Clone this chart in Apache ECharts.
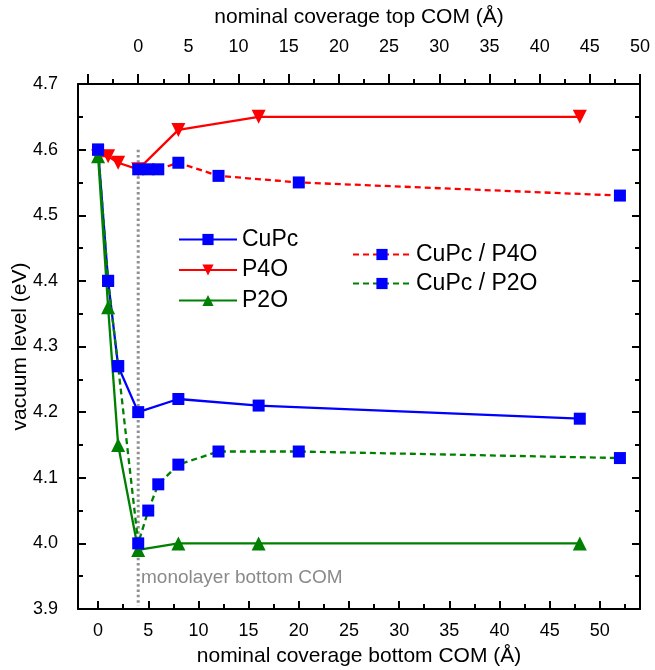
<!DOCTYPE html>
<html>
<head>
<meta charset="utf-8">
<script src="https://cdn.jsdelivr.net/npm/echarts@6/dist/echarts.min.js"></script>
<style>
  html, body { margin: 0; padding: 0; background: #fff; }
  #chart { width: 655px; height: 670px; }
</style>
</head>
<body>
<div id="chart"></div>
<script>
// bottom axis coverage (Å)
const bottomX = [0, 1, 2, 4, 8, 16, 48];
const cupc = [4.60, 4.40, 4.27, 4.20, 4.22, 4.21, 4.19];
const p4o = [4.59, 4.59, 4.58, 4.57, 4.63, 4.65, 4.65];
const p2o = [4.59, 4.36, 4.15, 3.99, 4.00, 4.00, 4.00];

// top axis coverage (Å), top = bottom - 4
const topXP4O = [0, 1, 2, 4, 8, 16, 48];
const cupcOnP4O = [4.57, 4.57, 4.57, 4.58, 4.56, 4.55, 4.53];
const topXP2O = [-4, -3, -2, 0, 1, 2, 4, 8, 16, 48];
const cupcOnP2O = [4.60, 4.40, 4.27, 4.00, 4.05, 4.09, 4.12, 4.14, 4.14, 4.13];

const monolayerX = [4, 4];
const monolayerY = [4.60, 3.905];

const bottomMajor = [0, 5, 10, 15, 20, 25, 30, 35, 40, 45, 50];
const bottomMinor = [2.5, 7.5, 12.5, 17.5, 22.5, 27.5, 32.5, 37.5, 42.5, 47.5, 52.5];
const topMajorTicks = [-5, 0, 5, 10, 15, 20, 25, 30, 35, 40, 45, 50];
const topLabels = [0, 5, 10, 15, 20, 25, 30, 35, 40, 45, 50];
const topMinor = [-2.5, 2.5, 7.5, 12.5, 17.5, 22.5, 27.5, 32.5, 37.5, 42.5, 47.5];

const BLUE = '#0000ff', RED = '#ff0000', GREEN = '#008000';
const FONT = 'Liberation Sans, Arial, sans-serif';

const pairs = (xs, ys) => xs.map((x, i) => [x, ys[i]]);

const axisLineStyle = { color: '#000', width: 2 };
const tickStyle = { color: '#000', width: 2 };

const option = {
  animation: false,
  grid: { left: 78, right: 15, top: 84, bottom: 61, containLabel: false, outerBoundsMode: 'none' },
  legend: [
    {
      orient: 'vertical', left: 173, top: 223,
      itemWidth: 58, itemHeight: 14, itemGap: 7.5,
      data: ['CuPc', 'P4O', 'P2O'],
      textStyle: { fontSize: 23, fontFamily: FONT, color: '#000' }
    },
    {
      orient: 'vertical', left: 347, top: 238,
      itemWidth: 58, itemHeight: 14, itemGap: 6,
      data: ['CuPc / P4O', 'CuPc / P2O'],
      textStyle: { fontSize: 23, fontFamily: FONT, color: '#000' }
    }
  ],
  xAxis: [
    {
      type: 'value', position: 'bottom', min: -2, max: 54,
      name: 'nominal coverage bottom COM (Å)', nameLocation: 'middle', nameGap: 37,
      nameTextStyle: { fontSize: 21, fontFamily: FONT, color: '#000' },
      axisLine: { onZero: false, lineStyle: axisLineStyle },
      axisTick: { inside: true, length: 8, lineStyle: tickStyle, customValues: bottomMajor },
      axisLabel: { fontSize: 18, fontFamily: FONT, color: '#000', margin: 13, customValues: bottomMajor },
      splitLine: { show: false }
    },
    {
      type: 'value', position: 'top', min: -6, max: 50,
      name: 'nominal coverage top COM (Å)', nameLocation: 'middle', nameGap: 56,
      nameTextStyle: { fontSize: 21, fontFamily: FONT, color: '#000' },
      axisLine: { onZero: false, lineStyle: axisLineStyle },
      axisTick: { inside: false, length: 10, lineStyle: tickStyle, customValues: topMajorTicks },
      axisLabel: { fontSize: 18, fontFamily: FONT, color: '#000', margin: 28, customValues: topLabels },
      splitLine: { show: false }
    },
    {
      type: 'value', position: 'bottom', min: -2, max: 54,
      axisLine: { show: false, onZero: false },
      axisTick: { inside: true, length: 5, lineStyle: tickStyle, customValues: bottomMinor },
      axisLabel: { show: false },
      splitLine: { show: false }
    },
    {
      type: 'value', position: 'top', min: -6, max: 50,
      axisLine: { show: false, onZero: false },
      axisTick: { inside: false, length: 5, lineStyle: tickStyle, customValues: topMinor },
      axisLabel: { show: false },
      splitLine: { show: false }
    }
  ],
  yAxis: [
    {
      type: 'value', position: 'left', min: 3.9, max: 4.7, interval: 0.1,
      name: 'vacuum level (eV)', nameLocation: 'middle', nameGap: 47, nameMoveOverlap: false,
      nameTextStyle: { fontSize: 21, fontFamily: FONT, color: '#000' },
      axisLine: { show: true, onZero: false, lineStyle: axisLineStyle },
      axisTick: { inside: true, length: 8, lineStyle: tickStyle },
      minorTick: { show: true, splitNumber: 2, length: 5, lineStyle: tickStyle },
      axisLabel: { fontSize: 18, fontFamily: FONT, color: '#000', margin: 20,
        formatter: v => v.toFixed(1) },
      splitLine: { show: false }
    },
    {
      type: 'value', position: 'right', min: 3.9, max: 4.7, interval: 0.1,
      axisLine: { show: true, onZero: false, lineStyle: axisLineStyle },
      axisTick: { inside: true, length: 8, lineStyle: tickStyle },
      minorTick: { show: true, splitNumber: 2, length: 5, lineStyle: tickStyle },
      axisLabel: { show: false },
      splitLine: { show: false }
    }
  ],
  graphic: [
    {
      type: 'text', left: 141, top: 568,
      style: { text: 'monolayer bottom COM', fontSize: 19, fontFamily: FONT, fill: '#8a8a8a' }
    }
  ],
  series: [
    {
      name: 'monolayer', type: 'line', xAxisIndex: 0, yAxisIndex: 0,
      data: pairs(monolayerX, monolayerY), symbol: 'none', silent: true,
      lineStyle: { color: '#909090', width: 3, type: [2.5, 2.8] }, z: 1
    },
    {
      name: 'CuPc', type: 'line', xAxisIndex: 0, yAxisIndex: 0,
      data: pairs(bottomX, cupc), symbol: 'rect', symbolSize: 12,
      lineStyle: { color: BLUE, width: 2.3 }, itemStyle: { color: BLUE }, z: 3
    },
    {
      name: 'P4O', type: 'line', xAxisIndex: 0, yAxisIndex: 0,
      data: pairs(bottomX, p4o), symbol: 'triangle', symbolRotate: 180, symbolSize: 14,
      lineStyle: { color: RED, width: 2.3 }, itemStyle: { color: RED }, z: 3
    },
    {
      name: 'P2O', type: 'line', xAxisIndex: 0, yAxisIndex: 0,
      data: pairs(bottomX, p2o), symbol: 'triangle', symbolSize: 14,
      lineStyle: { color: GREEN, width: 2.3 }, itemStyle: { color: GREEN }, z: 3
    },
    {
      name: 'CuPc / P4O', type: 'line', xAxisIndex: 1, yAxisIndex: 0,
      data: pairs(topXP4O, cupcOnP4O), symbol: 'rect', symbolSize: 12,
      lineStyle: { color: RED, width: 2.3, type: [6, 4] }, itemStyle: { color: BLUE }, z: 4
    },
    {
      name: 'CuPc / P2O', type: 'line', xAxisIndex: 1, yAxisIndex: 0,
      data: pairs(topXP2O, cupcOnP2O), symbol: 'rect', symbolSize: 12,
      lineStyle: { color: GREEN, width: 2.3, type: [6, 4] }, itemStyle: { color: BLUE }, z: 4
    }
  ]
};

const chart = echarts.init(document.getElementById('chart'));
chart.setOption(option);
</script>
</body>
</html>
